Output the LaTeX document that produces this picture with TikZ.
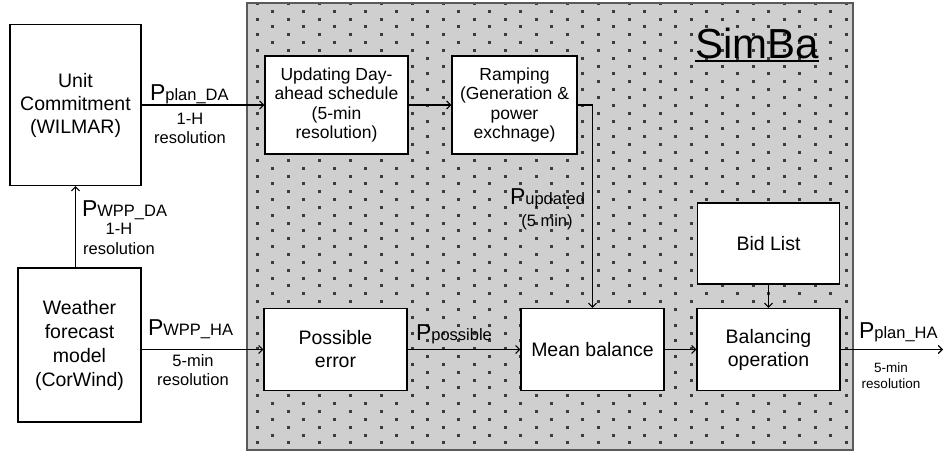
\documentclass[tikz,border=0pt]{standalone}
\usepackage{fontspec}
\setmainfont{Liberation Sans}
\usetikzlibrary{positioning, calc, arrows.meta}

\definecolor{simbaFill}{RGB}{207,207,207}
\definecolor{dotColor}{RGB}{60,60,60}
\definecolor{simbaLine}{RGB}{90,90,90}

\newcommand{\powr}[1]{{\fontsize{23}{23}\selectfont P}{\fontsize{16.5}{16.5}\selectfont #1}}

\tikzset{
  box/.style={draw=black, line width=1.2pt, fill=white, align=center, inner sep=0pt},
  bigtext/.style={font=\fontsize{19.5}{23}\selectfont},
  toptext/.style={font=\fontsize{17.5}{19.5}\selectfont},
  flow/.style={line width=1.1pt, -{Straight Barb[length=4pt,width=8pt]}},
  plabel/.style={anchor=base west, inner sep=0pt, outer sep=0pt},
  reslabel/.style={anchor=north, inner sep=0pt, outer sep=0pt, align=center, font=\fontsize{16.5}{19.5}\selectfont}
}

\begin{document}
\begin{tikzpicture}[x=1pt,y=-1pt]
\useasboundingbox (0,0) rectangle (945,453);

% SimBa area with dotted fill
\fill[simbaFill] (247,3) rectangle (853,450);
\begin{scope}
\clip (247,3) rectangle (853,450);
\foreach \j in {0,...,57} {
  \foreach \i in {0,...,19} {
    \fill[dotColor] ({257.3+31*\i+15.5*mod(\j,2)-1.5}, {3.3+7.85*\j-1.5}) rectangle ++(3,3);
  }
}
\end{scope}
\draw[simbaLine, line width=1.3pt] (247,3) rectangle (853,450);

\node[inner sep=0pt, outer sep=0pt, anchor=base, font=\fontsize{42}{42}\selectfont] (simlbl) at (757,58) {SimBa};
\draw[line width=1.5pt] ([yshift=-3pt]simlbl.base west) -- ([yshift=-3pt]simlbl.base east);

% blocks
\node[box, bigtext, minimum width=131pt, minimum height=161pt] (uc) at (75.5,105) {Unit\\Commitment\\(WILMAR)};
\node[box, minimum width=123pt, minimum height=154pt, font=\fontsize{19.5}{24}\selectfont] (wf) at (79.5,345) {Weather\\forecast\\model\\(CorWind)};
\node[box, toptext, minimum width=143pt, minimum height=98pt] (upd) at (336.5,105) {Updating Day-\\ahead schedule\\(5-min\\resolution)};
\node[box, toptext, minimum width=125pt, minimum height=98pt] (ramp) at (514.5,105) {Ramping\\(Generation \&\\power\\exchnage)};
\node[box, bigtext, minimum width=143pt, minimum height=82pt] (perr) at (335.5,349.5) {Possible\\error};
\node[box, bigtext, minimum width=143pt, minimum height=82pt] (mean) at (592.5,349.5) {Mean balance};
\node[box, bigtext, minimum width=143pt, minimum height=82pt] (bal) at (768.5,349.5) {Balancing\\operation};
\node[box, bigtext, minimum width=142pt, minimum height=81pt] (bid) at (768.5,243.5) {Bid List};
\coordinate (out) at (943,349.5);

% connectors
\draw[flow] (uc.east) -- (upd.west);
\draw[flow] (upd.east) -- (ramp.west);
\draw[flow] (ramp.east) -| (mean.north);
\draw[flow] (uc.south |- wf.north) -- (uc.south);
\draw[flow] (wf.east |- perr.west) -- (perr.west);
\draw[flow] (perr.east) -- (mean.west);
\draw[flow] (mean.east) -- (bal.west);
\draw[flow] (bid.south) -- (bal.north);
\draw[flow] (bal.east) -- (out);

% labels
\node[plabel] (pplanda) at (150,100.7) {\powr{plan\_DA}};
\node[reslabel] (resda) at (190,113) {1-H\\resolution};
\node[plabel] (pwppda) at (82,216) {\powr{WPP\_DA}};
\node[reslabel] (reswda) at (119,223.5) {1-H\\resolution};
\node[plabel] (pwppha) at (148,335) {\powr{WPP\_HA}};
\node[reslabel] (reswha) at (193,354.5) {5-min\\resolution};
\node[plabel] (pposs) at (416,340) {\powr{possible}};
\node[plabel] (pupd) at (510,204) {\powr{updated}};
\node[inner sep=0pt, outer sep=0pt, anchor=base, font=\fontsize{16.5}{16.5}\selectfont] (updmin) at (547,226) {(5 min)};
\node[plabel] (pplanha) at (859,338) {\powr{plan\_HA}};
\node[reslabel, font=\fontsize{13.5}{16}\selectfont] (resha) at (891,362.5) {5-min\\resolution};
\end{tikzpicture}
\end{document}
